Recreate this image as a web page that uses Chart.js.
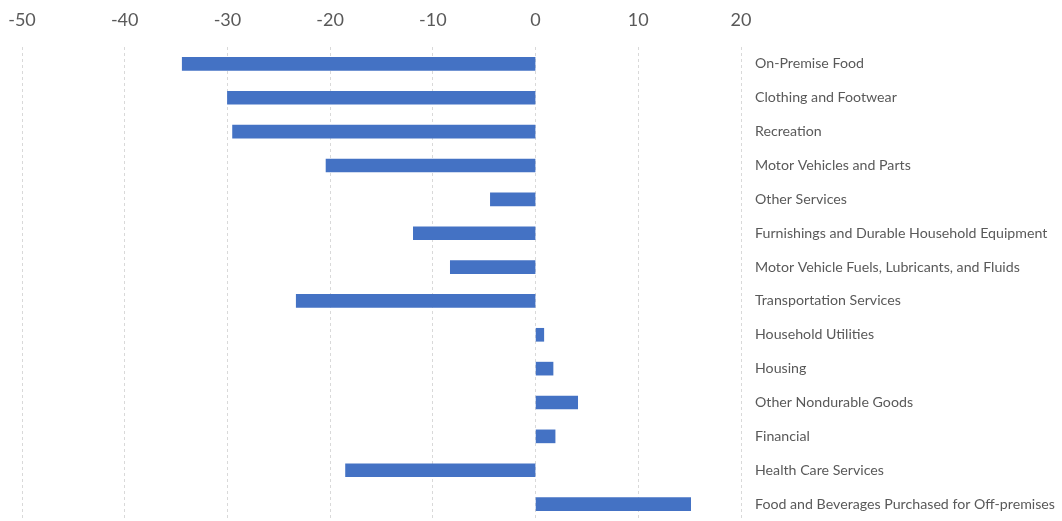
<!DOCTYPE html>
<html>
<head>
<meta charset="utf-8">
<script src="https://cdn.jsdelivr.net/npm/chart.js@4/dist/chart.umd.min.js"></script>
<style>
  html, body { margin: 0; padding: 0; background: #fff; overflow: hidden; }
  canvas { display: block; }
</style>
</head>
<body>
<canvas id="myBarChart" width="1062" height="521"></canvas>
<script>
// categories, top to bottom
var categories = [
	"On-Premise Food",
	"Clothing and Footwear",
	"Recreation",
	"Motor Vehicles and Parts",
	"Other Services",
	"Furnishings and Durable Household Equipment",
	"Motor Vehicle Fuels, Lubricants, and Fluids",
	"Transportation Services",
	"Household Utilities",
	"Housing",
	"Other Nondurable Goods",
	"Financial",
	"Health Care Services",
	"Food and Beverages Purchased for Off-premises"
];

// percent change
var changeValues = [-34.4, -30.0, -29.5, -20.4, -4.4, -11.9, -8.3, -23.3, 0.8, 1.7, 4.1, 1.9, -18.5, 15.1];

// tick labels along the top axis
var tickValues = [-50, -40, -30, -20, -10, 0, 10, 20];

var labelGray = "#595959";

//drop the extra room chart.js keeps for overflowing labels
function noOverflow(scale) {
	scale.paddingLeft = 0;
	scale.paddingRight = 0;
	scale.paddingTop = 0;
	scale.paddingBottom = 0;
}

var dataPreferences = {
	labels: categories,
	datasets: [{
		label: "Change",
		data: changeValues,
		backgroundColor: "#4472C4",
		borderWidth: 0,
		barThickness: 13
	}]
};

var bar_ctx = document.getElementById("myBarChart");
var myBarChart = new Chart(bar_ctx, {
	type: "bar",
	data: dataPreferences,
	options: {
		indexAxis: "y",
		responsive: false,
		animation: false,
		layout: { padding: { left: 22, right: 0, top: 0, bottom: 0 } },
		plugins: {
			legend: { display: false },
			tooltip: { enabled: false }
		},
		scales: {
			x: {
				position: "top",
				min: tickValues[0],
				max: tickValues[tickValues.length - 1],
				afterBuildTicks: function(scale) {
					scale.ticks = tickValues.map(function(v) { return { value: v }; });
				},
				afterFit: function(scale) {
					scale.height = 47;
					noOverflow(scale);
				},
				grid: {
					color: "#d9d9d9",
					lineWidth: 1,
					drawTicks: false
				},
				border: { display: false, dash: [3, 3] },
				ticks: {
					color: labelGray,
					padding: 16,
					maxRotation: 0,
					font: { family: "Lato", size: 18 }
				}
			},
			y: {
				position: "right",
				afterFit: function(scale) {
					scale.width = 321;
					noOverflow(scale);
				},
				grid: { display: false, drawTicks: false },
				border: { display: false },
				ticks: {
					color: labelGray,
					padding: 14,
					autoSkip: false,
					font: { family: "Lato", size: 14.2 }
				}
			}
		}
	}
});
</script>
</body>
</html>
